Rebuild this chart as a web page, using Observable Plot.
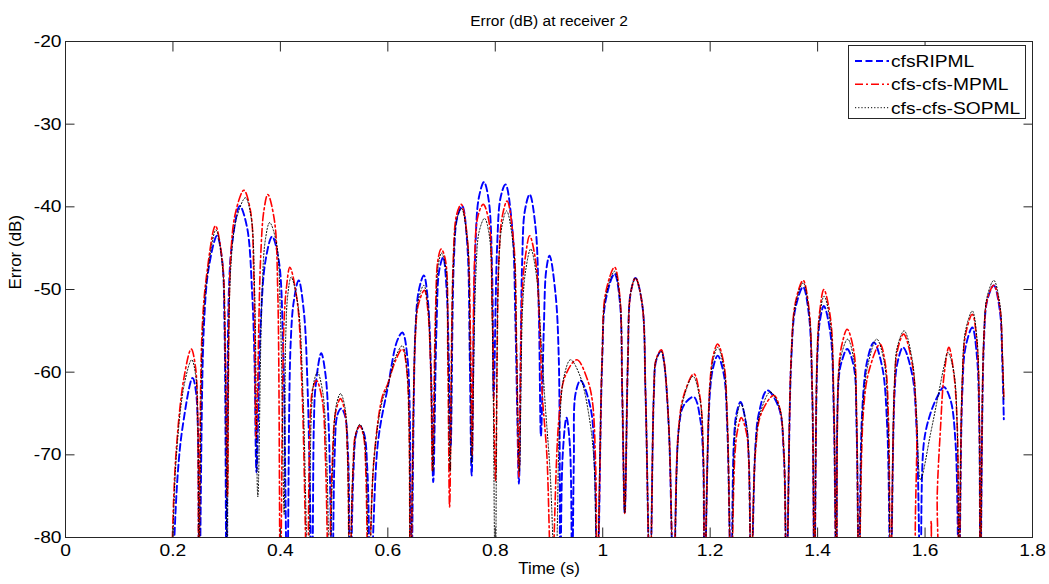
<!DOCTYPE html>
<html><head><meta charset="utf-8">
<script src="https://cdn.jsdelivr.net/npm/d3@7"></script>
<script src="https://cdn.jsdelivr.net/npm/@observablehq/plot@0.6"></script>
<style>
html,body{margin:0;padding:0;background:#fff;}
#chart svg{display:block;}
</style></head><body><div id="chart"></div>
<script>
const titleText = "Error (dB) at receiver 2";
const xLabel = "Time (s)";
const yLabel = "Error (dB)";
const seriesNames = ["cfsRIPML", "cfs-cfs-MPML", "cfs-cfs-SOPML"];
const xTicks = [0, 0.2, 0.4, 0.6, 0.8, 1, 1.2, 1.4, 1.6, 1.8];
const yTicks = [-80, -70, -60, -50, -40, -30, -20];

// [time (s), error (dB)]; values below -80 are clipped
const cfsRIPML = [
[0.199,-86],[0.2085,-72.7],[0.2178,-66.7],[0.2364,-60.7],[0.2433,-62.6],[0.249,-86],
[0.2575,-54.6],[0.2668,-47.3],[0.282,-43.5],[0.2917,-46.5],[0.296,-54.6],[0.2997,-86],
[0.304,-50.5],[0.310,-44.5],[0.3245,-39.9],[0.338,-42.5],[0.3475,-50.5],[0.3518,-58.6],[0.3555,-72.1],
[0.363,-54.6],[0.3723,-46.5],[0.3847,-43.6],[0.397,-46.5],[0.405,-56.6],[0.4126,-86],
[0.4188,-57],[0.425,-51.4],[0.434,-48.9],[0.4436,-52.6],[0.451,-62.6],[0.459,-86],
[0.4622,-66.7],[0.4654,-61.8],[0.476,-57.7],[0.4838,-60.2],[0.490,-66.7],[0.4965,-86],
[0.501,-70],[0.506,-65.2],[0.513,-64.4],[0.520,-65.2],[0.526,-70],[0.530,-86],
[0.536,-72],[0.541,-67.5],[0.548,-66.5],[0.556,-67.5],[0.562,-72],[0.568,-86],
[0.5814,-68.6],[0.600,-61.8],[0.6174,-56.2],[0.627,-55.2],[0.637,-58.6],[0.6435,-86],
[0.6515,-54.6],[0.6577,-50.1],[0.667,-48.3],[0.6745,-51.3],[0.6807,-60.6],[0.6845,-73.3],
[0.6906,-54.6],[0.6956,-47.7],[0.703,-46.1],[0.7093,-49.9],[0.7135,-58.6],[0.717,-69],
[0.7229,-46.5],[0.7291,-41.3],[0.7384,-39.9],[0.7478,-44.5],[0.7526,-58.6],[0.756,-72.5],
[0.7632,-44.5],[0.7694,-38.9],[0.779,-37.0],[0.788,-39.3],[0.7943,-48.5],[0.797,-63],
[0.8036,-44.5],[0.8098,-38.9],[0.819,-37.3],[0.8315,-42.5],[0.8377,-54.6],[0.8408,-64.7],[0.844,-73.5],
[0.8501,-46.5],[0.855,-40.5],[0.864,-38.5],[0.875,-42.5],[0.881,-52.6],[0.885,-67.7],
[0.8904,-54.6],[0.8948,-47.7],[0.901,-45.9],[0.9121,-50.5],[0.9183,-58.6],[0.921,-86],
[0.9255,-70],[0.9326,-65.5],[0.939,-69],[0.943,-86],
[0.9462,-70.7],[0.9494,-62.6],[0.9587,-61.0],[0.9773,-64.3],[0.9847,-70.7],[0.990,-86],
[0.999,-58.6],[1.0052,-51.4],[1.022,-48.1],[1.0318,-51.4],[1.0363,-62.6],[1.041,-77.1],
[1.0468,-58.6],[1.0518,-50.5],[1.061,-48.6],[1.0735,-51.8],[1.0797,-62.6],[1.088,-86],
[1.0952,-62.6],[1.0995,-58.6],[1.109,-57.4],[1.1138,-58.6],[1.123,-66.7],[1.132,-86],
[1.1417,-66.7],[1.151,-64],[1.1696,-63.0],[1.182,-65.9],[1.187,-70.7],[1.1895,-86],
[1.1994,-62.6],[1.2057,-59.4],[1.214,-58.0],[1.2255,-60.3],[1.2318,-66.7],[1.239,-86],
[1.244,-68.6],[1.249,-65],[1.2565,-63.6],[1.2677,-66.7],[1.272,-70.7],[1.2764,-86],
[1.2845,-68.6],[1.2906,-65],[1.306,-62.2],[1.3278,-64.3],[1.3371,-69.9],[1.342,-86],
[1.3509,-58.6],[1.3589,-52.2],[1.373,-49.7],[1.3837,-53],[1.39,-62.6],[1.394,-86],
[1.3993,-58.6],[1.4042,-53.8],[1.4116,-52.0],[1.424,-55.4],[1.430,-64.7],[1.435,-86],
[1.4395,-60.6],[1.4458,-58.5],[1.455,-57.2],[1.4675,-59.4],[1.4725,-66.7],[1.477,-86],
[1.483,-64.7],[1.4924,-58.6],[1.5047,-56.4],[1.5203,-59.4],[1.5296,-66.7],[1.5357,-86],
[1.5432,-62.6],[1.5482,-59],[1.559,-57.0],[1.5761,-60.3],[1.5841,-66.7],[1.5916,-86],
[1.5977,-68.6],[1.610,-65],[1.6227,-63],[1.635,-61.8],[1.6475,-63.4],[1.6568,-68.6],[1.663,-86],
[1.6692,-62.6],[1.6753,-57],[1.688,-54.6],[1.6967,-58.2],[1.701,-66.7],[1.703,-86],
[1.7094,-56.6],[1.7158,-51.3],[1.728,-49.5],[1.7393,-52.6],[1.7437,-58.6],[1.7466,-65.7]
];

const cfsMPML = [
[0.1968,-86],[0.2048,-70.7],[0.2202,-60.8],[0.234,-57.2],[0.242,-59.4],[0.2463,-66.7],[0.248,-86],
[0.2545,-54.6],[0.2638,-47.7],[0.279,-42.3],[0.2917,-46.5],[0.2978,-58.6],[0.3016,-75],
[0.3071,-46.5],[0.3165,-40.7],[0.332,-38.0],[0.3444,-40.5],[0.3506,-48.5],[0.355,-68],
[0.363,-46.5],[0.3692,-40.5],[0.3766,-38.5],[0.389,-41.7],[0.3952,-50.5],[0.400,-86],
[0.4064,-54.6],[0.4114,-49.7],[0.4176,-47.3],[0.4313,-51.4],[0.4406,-62.6],[0.450,-86],
[0.456,-64.7],[0.461,-61.8],[0.4672,-61.0],[0.478,-63.4],[0.484,-70.7],[0.490,-86],
[0.496,-72],[0.503,-64.8],[0.512,-63.2],[0.520,-64.8],[0.525,-70],[0.529,-86],
[0.535,-72],[0.540,-67.5],[0.548,-66.5],[0.555,-67.8],[0.559,-72],[0.564,-86],
[0.574,-70.7],[0.5896,-63.0],[0.600,-61.4],[0.6143,-58.6],[0.627,-57.2],[0.636,-60.3],[0.642,-86],
[0.651,-56],[0.657,-51.8],[0.668,-50.1],[0.6745,-52.5],[0.680,-60],[0.683,-72],
[0.6888,-52.6],[0.6931,-46.5],[0.6993,-45.1],[0.7074,-46.5],[0.7117,-58.6],[0.715,-76.3],
[0.7217,-46.5],[0.7279,-41],[0.7366,-39.7],[0.7478,-43.7],[0.754,-56.6],[0.757,-70],
[0.7614,-46.5],[0.7675,-41.2],[0.7775,-39.7],[0.788,-41.7],[0.7943,-52.6],[0.8005,-73.1],
[0.8066,-46.5],[0.8129,-41.2],[0.822,-39.3],[0.8345,-44.5],[0.8396,-56.6],[0.844,-72.7],
[0.8501,-50.5],[0.8563,-45.9],[0.864,-43.5],[0.875,-46.5],[0.8829,-54.6],[0.8874,-62.6],[0.896,-70],[0.905,-86],
[0.918,-66],[0.930,-60.5],[0.952,-58.5],[0.971,-60.8],[0.9805,-63.4],[0.9866,-70.7],[0.990,-86],
[0.999,-58],[1.0052,-50.5],[1.022,-47.3],[1.0318,-50.8],[1.0363,-62],[1.041,-77.1],
[1.0468,-58.6],[1.0518,-50.5],[1.061,-48.6],[1.0735,-51.8],[1.0797,-62.6],[1.088,-86],
[1.0952,-62.4],[1.0995,-58.4],[1.109,-57.3],[1.1138,-58.5],[1.123,-66.5],[1.132,-86],
[1.140,-68],[1.150,-63],[1.1696,-60.2],[1.181,-63],[1.187,-69],[1.1895,-86],
[1.1994,-61.5],[1.2057,-58],[1.214,-56.6],[1.2255,-59],[1.2318,-65.5],[1.239,-86],
[1.246,-70],[1.251,-67],[1.258,-65.5],[1.268,-67.5],[1.272,-71],[1.2764,-86],
[1.2845,-69.5],[1.295,-65],[1.3186,-62.8],[1.330,-64.5],[1.3371,-69.5],[1.342,-86],
[1.3509,-58],[1.3589,-51.5],[1.373,-48.9],[1.3837,-52.2],[1.39,-62],[1.394,-86],
[1.3993,-57.5],[1.4042,-52.5],[1.4116,-50.0],[1.424,-53.5],[1.430,-63],[1.435,-86],
[1.4395,-59.5],[1.4458,-56.5],[1.455,-54.8],[1.4675,-57.5],[1.4725,-65],[1.477,-86],
[1.485,-65],[1.495,-60],[1.516,-56.6],[1.526,-59],[1.532,-66],[1.5357,-86],
[1.5432,-61.5],[1.5482,-57.5],[1.560,-55.4],[1.5761,-59],[1.5841,-66],[1.5916,-86],
[1.607,-86],[1.6114,-78],[1.616,-86],
[1.621,-86],[1.6227,-74.7],[1.6288,-66.7],[1.635,-60.6],[1.6443,-57.0],[1.6536,-60.2],[1.660,-66.7],[1.663,-86],
[1.6692,-61.5],[1.6753,-55.5],[1.688,-53.0],[1.6967,-56.5],[1.701,-65.5],[1.703,-86],
[1.7094,-56],[1.7158,-51.2],[1.728,-49.5],[1.7393,-52.2],[1.7437,-57.5],[1.7466,-63.0]
];

const cfsSOPML = [
[0.198,-86],[0.2055,-71],[0.221,-61.5],[0.235,-58.5],[0.2425,-60.5],[0.2465,-67],[0.2485,-86],
[0.2555,-55],[0.2645,-48],[0.280,-42.8],[0.292,-47],[0.2975,-59],[0.301,-86],
[0.3075,-47.5],[0.318,-41.5],[0.335,-38.9],[0.346,-41.5],[0.352,-50],[0.358,-75.1],
[0.366,-50],[0.372,-44],[0.380,-41.9],[0.393,-44.5],[0.400,-53],[0.407,-77.2],
[0.410,-55.5],[0.414,-50.5],[0.420,-48.5],[0.433,-52],[0.442,-62.5],[0.452,-86],
[0.458,-64.5],[0.463,-61],[0.469,-60],[0.479,-62.5],[0.486,-70],[0.492,-86],
[0.497,-72],[0.504,-64],[0.512,-62.6],[0.520,-64.2],[0.525,-70],[0.529,-86],
[0.535,-72],[0.541,-67.3],[0.548,-66.3],[0.555,-67.5],[0.560,-72],[0.565,-86],
[0.574,-70.7],[0.5896,-63.5],[0.600,-61.6],[0.6143,-58.2],[0.627,-56.8],[0.636,-60],[0.642,-86],
[0.651,-55.5],[0.657,-51.2],[0.667,-49.5],[0.6745,-52],[0.680,-60],[0.684,-72],
[0.6895,-53],[0.694,-47],[0.700,-45.6],[0.708,-47.5],[0.712,-58],[0.716,-72],
[0.722,-47],[0.7285,-41.5],[0.737,-40.2],[0.748,-44],[0.753,-57],[0.756,-71],
[0.764,-48],[0.770,-43],[0.780,-41.4],[0.789,-43.5],[0.7945,-54],[0.800,-86],
[0.806,-48],[0.8125,-42.3],[0.821,-40.5],[0.834,-45],[0.8395,-57],[0.845,-72],
[0.851,-52],[0.857,-47.5],[0.866,-45.1],[0.877,-48.5],[0.885,-56],[0.893,-64],[0.902,-72],[0.912,-86],
[0.920,-66],[0.928,-60.5],[0.940,-58.5],[0.958,-60.5],[0.975,-65.5],[0.984,-71],[0.989,-86],
[0.999,-58.3],[1.0052,-51],[1.022,-47.8],[1.0318,-51.1],[1.0363,-62.3],[1.041,-77],
[1.0468,-58.6],[1.0518,-50.5],[1.061,-48.6],[1.0735,-51.8],[1.0797,-62.6],[1.088,-86],
[1.0952,-62.5],[1.0995,-58.5],[1.109,-57.5],[1.1138,-58.7],[1.123,-66.6],[1.132,-86],
[1.141,-67.5],[1.150,-63.3],[1.168,-60.5],[1.181,-63.3],[1.187,-69.5],[1.1895,-86],
[1.1994,-62],[1.2057,-58.5],[1.214,-57.0],[1.2255,-59.5],[1.2318,-66],[1.239,-86],
[1.245,-69],[1.250,-65.3],[1.257,-63.8],[1.268,-66.5],[1.272,-70.5],[1.2764,-86],
[1.2845,-69],[1.293,-65],[1.312,-62.4],[1.329,-64.3],[1.3371,-69.5],[1.342,-86],
[1.3509,-58.3],[1.3589,-51.8],[1.373,-49.2],[1.3837,-52.5],[1.39,-62.3],[1.394,-86],
[1.3993,-58],[1.4042,-53],[1.412,-50.8],[1.424,-54.2],[1.430,-63.8],[1.435,-86],
[1.4395,-60],[1.4458,-57.5],[1.456,-56.0],[1.4675,-58.5],[1.4725,-65.8],[1.477,-86],
[1.484,-64.5],[1.494,-59],[1.510,-56.0],[1.524,-58.8],[1.531,-66],[1.5357,-86],
[1.5432,-61],[1.5482,-57],[1.561,-55.0],[1.5761,-58.5],[1.5841,-65],[1.5916,-73],
[1.610,-67.5],[1.6227,-63.4],[1.635,-59.4],[1.6424,-57.6],[1.6536,-60],[1.660,-67],[1.663,-86],
[1.6692,-61],[1.6753,-55],[1.688,-52.6],[1.6967,-56],[1.701,-65],[1.703,-86],
[1.7094,-55.8],[1.7158,-50.8],[1.728,-48.9],[1.7393,-51.8],[1.7437,-57.5],[1.7466,-63.5]
];

const styles = [
  {stroke: "#0000ff", strokeWidth: 1.9, dash: "7,3.5"},
  {stroke: "#ff0000", strokeWidth: 1.6, dash: "8,3,2,3"},
  {stroke: "#000000", strokeWidth: 1, dash: "1.2,2"}
];
const seriesData = [cfsRIPML, cfsMPML, cfsSOPML];
const axisColor = "#262626";
const font = "'Liberation Sans', Arial, Helvetica, sans-serif";

const lineMarks = seriesData.map((data, i) => Plot.line(data, {
  x: d => d[0], y: d => d[1],
  stroke: styles[i].stroke, strokeWidth: styles[i].strokeWidth,
  strokeDasharray: styles[i].dash, curve: "catmull-rom", clip: true
}));

const chart = Plot.plot({
  width: 1049, height: 584,
  marginLeft: 65, marginRight: 17, marginTop: 41, marginBottom: 47,
  x: {domain: [0, 1.8]},
  y: {domain: [-80, -20]},
  style: {fontFamily: font, fontSize: "17px", background: "#fff", color: "#000", overflow: "visible"},
  marks: [
    ...lineMarks,
    Plot.frame({stroke: axisColor, strokeWidth: 1}),
    Plot.axisX({anchor: "bottom", ticks: xTicks, tickSize: -9.5, tickPadding: 15.5, tickFormat: d => String(d), label: null, stroke: axisColor}),
    Plot.axisX({anchor: "top", ticks: xTicks, tickSize: -9.5, tickPadding: 0, tickFormat: () => "", label: null, stroke: axisColor}),
    Plot.axisY({anchor: "left", ticks: yTicks, tickSize: -9.5, tickPadding: 13.5, tickFormat: d => String(d), label: null, stroke: axisColor}),
    Plot.axisY({anchor: "right", ticks: yTicks, tickSize: -9.5, tickPadding: 0, tickFormat: () => "", label: null, stroke: axisColor}),
    Plot.text([titleText], {text: d => d, frameAnchor: "top", dy: -27, fontSize: 15.5}),
    Plot.text([xLabel], {text: d => d, frameAnchor: "bottom", dy: 36, fontSize: 17}),
    Plot.text([yLabel], {text: d => d, frameAnchor: "left", dx: -50, rotate: -90, fontSize: 17})
  ]
});
document.getElementById("chart").append(chart);

const svg = d3.select(chart);
function stretch(sel, k) {
  sel.each(function () {
    const L = this.getComputedTextLength();
    if (L > 0) {
      this.setAttribute("textLength", (L * k).toFixed(2));
      this.setAttribute("lengthAdjust", "spacingAndGlyphs");
    }
  });
}
stretch(svg.selectAll('g[aria-label$="tick label"] text'), 1.13);

// legend
const lg = svg.append("g").attr("font-family", font).attr("font-size", 17).attr("text-anchor", "start");
lg.append("rect").attr("x", 848.5).attr("y", 45.5).attr("width", 177).attr("height", 73)
  .attr("fill", "#fff").attr("stroke", axisColor).attr("stroke-width", 1);
const rowY = [61, 84.3, 107.7];
seriesNames.forEach((name, i) => {
  lg.append("line").attr("x1", 855).attr("x2", 889).attr("y1", rowY[i]).attr("y2", rowY[i])
    .attr("stroke", styles[i].stroke).attr("stroke-width", styles[i].strokeWidth)
    .attr("stroke-dasharray", styles[i].dash);
  lg.append("text").attr("x", 891).attr("y", rowY[i]).attr("dy", "0.35em")
    .attr("text-anchor", "start").attr("fill", "#000").text(name);
});
stretch(lg.selectAll("text"), 1.13);
</script>
</body></html>
